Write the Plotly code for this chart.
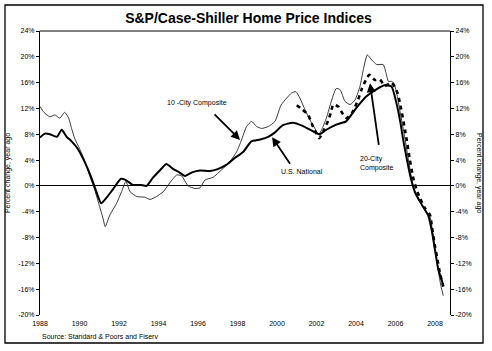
import plotly.graph_objects as go

# ---- data (decimal years, % change year ago) ----
nat_x = [1988.0, 1988.25, 1988.5, 1988.85, 1989.1, 1989.35, 1989.6, 1989.9, 1990.25, 1990.6,
         1990.85, 1991.1, 1991.35, 1991.7, 1992.1, 1992.35, 1992.7, 1993.1, 1993.4, 1993.7,
         1994.1, 1994.4, 1994.75, 1995.0, 1995.35, 1995.7, 1996.1, 1996.6, 1997.0, 1997.45,
         1997.85, 1998.3, 1998.7, 1999.15, 1999.55, 1999.9, 2000.3, 2000.8, 2001.3, 2001.85,
         2002.15, 2002.5, 2003.0, 2003.5, 2004.0, 2004.5, 2005.05, 2005.45, 2005.8, 2006.05,
         2006.25, 2006.4, 2006.8, 2007.0, 2007.33, 2007.66, 2007.83, 2008.0, 2008.17, 2008.34,
         2008.42]
nat_y = [7.5, 8.1, 8.0, 7.6, 8.7, 7.6, 6.9, 5.8, 3.8, 1.3,
         -0.9, -2.7, -1.9, -0.5, 1.1, 0.9, 0.15, 0.15, 0.0, 1.2,
         2.5, 3.4, 2.6, 2.2, 1.55, 2.1, 2.4, 2.3, 2.6, 3.3,
         4.3, 5.3, 6.9, 7.2, 7.6, 8.3, 9.4, 9.8, 9.3, 8.4,
         8.0, 8.7, 9.5, 10.0, 12.0, 13.8, 15.0, 15.6, 15.4, 12.8,
         9.8, 7.0, 0.9, -1.1, -2.9, -4.6, -6.8, -9.9, -13.0, -14.6,
         -15.5]

c10_x = [1988.0, 1988.2, 1988.5, 1988.75, 1989.0, 1989.25, 1989.45, 1989.6, 1989.75, 1990.0,
         1990.25, 1990.5, 1990.77, 1991.02, 1991.19, 1991.3, 1991.54, 1991.88, 1992.13, 1992.35,
         1992.56, 1992.9, 1993.3, 1993.57, 1993.9, 1994.24, 1994.58, 1994.92, 1995.17, 1995.5,
         1995.85, 1996.1, 1996.35, 1996.77, 1997.2, 1997.62, 1997.96, 1998.2, 1998.46, 1998.72,
         1998.97, 1999.22, 1999.56, 1999.9, 2000.2, 2000.49, 2000.74, 2000.96, 2001.16, 2001.42,
         2001.67, 2001.92, 2002.1, 2002.26, 2002.5, 2002.77, 2003.0, 2003.2, 2003.44, 2003.7,
         2003.95, 2004.2, 2004.37, 2004.57, 2004.8, 2005.05, 2005.38, 2005.52, 2005.64, 2005.8,
         2005.92, 2006.06, 2006.23, 2006.4, 2006.57, 2006.87, 2007.07, 2007.3, 2007.55, 2007.75,
         2007.85, 2008.0, 2008.17, 2008.3, 2008.42]
c10_y = [12.3, 11.4, 10.7, 11.0, 10.5, 11.4, 10.5, 8.9, 7.4, 5.8,
         4.0, 1.7, -0.6, -3.2, -5.0, -6.3, -4.5, -2.7, -0.9, 0.7,
         -0.9, -1.65, -1.75, -2.1, -1.65, -0.9, 0.5, 1.7, 1.55, 0.0,
         -0.4, -0.3, 0.9, 1.35, 2.5, 3.8, 5.3, 7.1, 9.2, 10.0,
         9.2, 8.9, 9.2, 10.0, 12.5, 13.6, 14.4, 14.6, 13.6, 11.8,
         10.2, 8.9, 7.9, 8.7, 10.5, 13.3, 15.1, 14.9, 13.1, 12.6,
         13.3, 15.4, 18.0, 20.3, 19.5, 18.8, 18.8, 17.5, 16.2, 16.2,
         15.9, 14.4, 11.5, 8.7, 5.6, 0.3, -1.5, -2.8, -4.0, -4.8,
         -6.5, -9.8, -13.2, -15.5, -17.0]

c20_x = [2001.0, 2001.3, 2001.58, 2001.75, 2001.9, 2002.14, 2002.35, 2002.6, 2002.72, 2002.85,
         2003.1, 2003.3, 2003.53, 2003.8, 2004.1, 2004.3, 2004.5, 2004.67, 2004.96, 2005.2,
         2005.47, 2005.8, 2005.95, 2006.1, 2006.23, 2006.48, 2006.57, 2006.73, 2006.9, 2007.07,
         2007.24, 2007.5, 2007.75, 2007.83, 2008.0, 2008.1, 2008.25, 2008.42]
c20_y = [12.5, 11.8, 11.0, 9.7, 8.7, 7.4, 8.5, 10.2, 11.3, 12.6,
         12.3, 11.3, 10.5, 11.3, 13.3, 15.1, 16.4, 17.2, 16.4, 16.5,
         15.5, 16.0, 15.4, 14.4, 12.8, 8.7, 7.1, 4.0, 1.2, -0.6,
         -1.9, -3.5, -4.5, -6.0, -9.4, -11.0, -13.5, -15.6]

x_ticks = [1988, 1990, 1992, 1994, 1996, 1998, 2000, 2002, 2004, 2006, 2008]
y_ticks = [-20, -16, -12, -8, -4, 0, 4, 8, 12, 16, 20, 24]
y_ticktext = [f"{v}%" for v in y_ticks]

FONT = "Liberation Sans, Arial, sans-serif"

fig = go.Figure()
fig.add_trace(go.Scatter(x=c10_x, y=c10_y, mode="lines",
                         line=dict(color="#222222", width=0.9, shape="spline", smoothing=0.5),
                         name="10-City Composite"))
fig.add_trace(go.Scatter(x=nat_x, y=nat_y, mode="lines",
                         line=dict(color="black", width=2, shape="spline", smoothing=0.5),
                         name="U.S. National"))
fig.add_trace(go.Scatter(x=c20_x, y=c20_y, mode="lines",
                         line=dict(color="black", width=2.6, dash="4px,4px", shape="spline", smoothing=0.5),
                         name="20-City Composite"))
# invisible trace to carry the right-hand axis
fig.add_trace(go.Scatter(x=[x_ticks[0]], y=[y_ticks[0]], yaxis="y2", mode="markers",
                         marker=dict(opacity=0), hoverinfo="skip", showlegend=False))

axis_font = dict(family=FONT, size=7, color="black")
title_font = dict(family=FONT, size=7, color="black")

fig.update_layout(
    template="none",
    width=492, height=351,
    margin=dict(l=40, r=42, t=31, b=36),
    paper_bgcolor="white", plot_bgcolor="white",
    showlegend=False,
    font=dict(family=FONT, color="black"),
    title=dict(text="<b>S&P/Case-Shiller Home Price Indices</b>", x=0.505, xanchor="center",
               y=0.948, yanchor="middle", font=dict(family=FONT, size=14, color="black")),
    xaxis=dict(range=[1988, 2008.76], tickvals=x_ticks, ticks="", showgrid=False,
               zeroline=False, showline=False, tickfont=axis_font, ticklabelstandoff=3),
    yaxis=dict(range=[-20, 24], tickvals=y_ticks, ticktext=y_ticktext, ticks="outside", ticklen=3,
               tickcolor="black", showgrid=False, zeroline=True, zerolinecolor="black",
               zerolinewidth=1.3, showline=True, linecolor="black", linewidth=1.2,
               mirror=False, tickfont=axis_font,
               title=dict(text="Percent change, year ago", font=title_font, standoff=6)),
    yaxis2=dict(range=[-20, 24], tickvals=y_ticks, ticktext=y_ticktext, ticks="outside", ticklen=3,
                tickcolor="black", overlaying="y", side="right", showgrid=False, zeroline=False,
                showline=True, linecolor="black", linewidth=1.2, tickfont=axis_font),
    shapes=[
        dict(type="line", xref="paper", yref="paper", x0=0, x1=1, y0=1, y1=1,
             line=dict(color="black", width=1)),
        dict(type="rect", xref="paper", yref="paper",
             x0=-35 / 410, x1=(483 - 40) / 410, y0=-(343 - 315) / 284, y1=(315 - 5) / 284,
             line=dict(color="black", width=1.3)),
    ],
)

ann_font = dict(family=FONT, size=7, color="black")
annotations = [
    dict(x=1995.95, y=12.87, text="10 -City Composite", showarrow=False, font=ann_font),
    dict(x=2001.27, y=2.17, text="U.S. National", showarrow=False, font=ann_font),
    dict(x=2004.1, y=3.5, text="20-City<br>Composite", showarrow=False, font=ann_font,
         xanchor="left", align="left"),
    dict(x=1998.13, y=7.13, ax=-27, ay=-27, text="", showarrow=True, arrowhead=2,
         arrowsize=1, arrowwidth=1.8, arrowcolor="black"),
    dict(x=1999.75, y=7.55, ax=19, ay=28, text="", showarrow=True, arrowhead=2,
         arrowsize=1, arrowwidth=1.8, arrowcolor="black"),
    dict(x=2004.71, y=15.9, ax=9, ay=63, text="", showarrow=True, arrowhead=2,
         arrowsize=1, arrowwidth=1.8, arrowcolor="black"),
    dict(xref="paper", yref="paper", x=0, y=-(337 - 315) / 284, xanchor="left", yanchor="middle",
         text="Source: Standard & Poors and Fiserv", showarrow=False, font=ann_font),
    dict(xref="paper", yref="paper", x=(479 - 40) / 410, y=0.5, xanchor="center", yanchor="middle",
         text="Percent change, year ago", textangle=90, showarrow=False, font=ann_font),
]
fig.update_layout(annotations=annotations)

fig.write_html("out.html")
